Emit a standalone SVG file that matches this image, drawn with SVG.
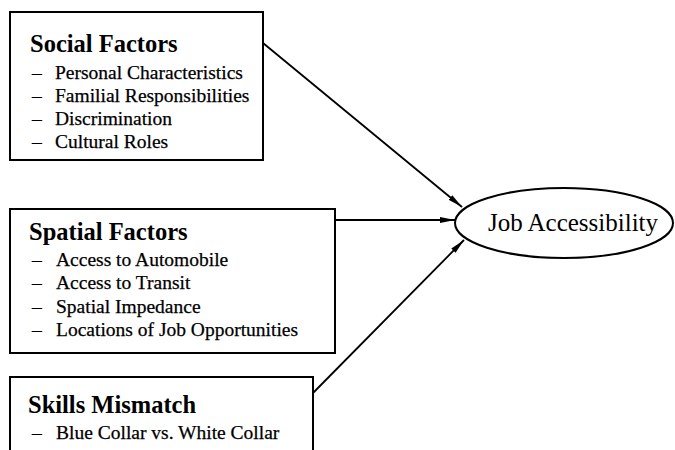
<svg xmlns="http://www.w3.org/2000/svg" width="675" height="450" viewBox="0 0 675 450">
<style>
.box{fill:#fff;stroke:#000;stroke-width:2}
.title{font-family:"Liberation Serif",serif;font-weight:bold;font-size:24.5px;fill:#000}
.item{font-family:"Liberation Serif",serif;font-size:19.5px;fill:#000;stroke:#000;stroke-width:0.25}
.conn{stroke:#000;stroke-width:1.8;fill:none;marker-end:url(#ah)}
</style>
<defs>
<marker id="ah" viewBox="0 0 15 7" refX="15" refY="3.5" markerWidth="15" markerHeight="7" markerUnits="userSpaceOnUse" orient="auto">
<path d="M0,0.5 L15,3.5 L0,6.5 Z" fill="#000"/>
</marker>
</defs>
<rect width="675" height="450" fill="#fff"/>
<g id="social">
<rect class="box" x="10" y="12" width="253" height="148"/>
<text class="title" x="30" y="52">Social Factors</text>
<text class="item" x="32" y="79">–</text><text class="item" x="55" y="79">Personal Characteristics</text>
<text class="item" x="32" y="102">–</text><text class="item" x="55" y="102">Familial Responsibilities</text>
<text class="item" x="32" y="125">–</text><text class="item" x="55" y="125">Discrimination</text>
<text class="item" x="32" y="148">–</text><text class="item" x="55" y="148">Cultural Roles</text>
</g>
<g id="spatial">
<rect class="box" x="10" y="209" width="325" height="144"/>
<text class="title" x="29" y="240">Spatial Factors</text>
<text class="item" x="32" y="266">–</text><text class="item" x="56" y="266">Access to Automobile</text>
<text class="item" x="32" y="289">–</text><text class="item" x="56" y="289">Access to Transit</text>
<text class="item" x="32" y="313">–</text><text class="item" x="56" y="313">Spatial Impedance</text>
<text class="item" x="32" y="336">–</text><text class="item" x="56" y="336">Locations of Job Opportunities</text>
</g>
<g id="skills">
<rect class="box" x="10" y="377" width="303" height="80"/>
<text class="title" x="28" y="413">Skills Mismatch</text>
<text class="item" x="32" y="439">–</text><text class="item" x="56" y="439">Blue Collar vs. White Collar</text>
</g>
<g id="job">
<ellipse cx="564" cy="223" rx="109" ry="35" fill="#fff" stroke="#000" stroke-width="2"/>
<text x="573" y="231" text-anchor="middle" font-family="Liberation Serif, serif" font-size="25px" fill="#000">Job Accessibility</text>
</g>
<g id="connectors">
<line class="conn" x1="263" y1="43" x2="462" y2="207"/>
<line class="conn" x1="335" y1="220" x2="455" y2="220"/>
<line class="conn" x1="313" y1="393" x2="464" y2="240"/>
</g>
</svg>
